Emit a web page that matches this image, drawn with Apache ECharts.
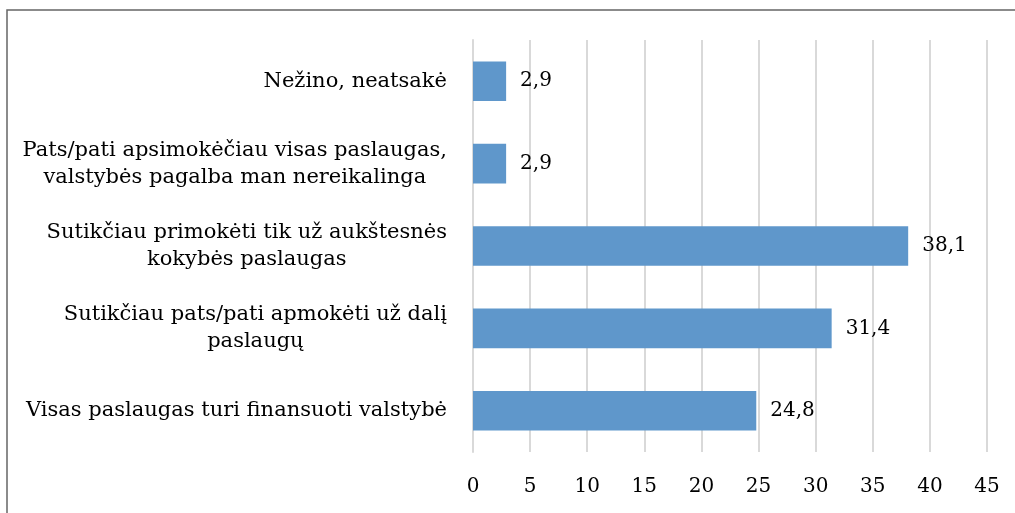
<!DOCTYPE html>
<html><head><meta charset="utf-8">
<script src="https://cdn.jsdelivr.net/npm/echarts@6/dist/echarts.min.js"></script>
<style>html,body{margin:0;padding:0;background:#fff}#c{width:1015px;height:513px}</style>
</head><body><div id="c"></div>
<script>
const categories = [
  "Visas paslaugas turi finansuoti valstybė",
  "Sutikčiau pats/pati apmokėti už dalį\npaslaugų",
  "Sutikčiau primokėti tik už aukštesnės\nkokybės paslaugas",
  "Pats/pati apsimokėčiau visas paslaugas,\nvalstybės pagalba man nereikalinga",
  "Nežino, neatsakė"
];
const values = [24.8, 31.4, 38.1, 2.9, 2.9];
const xTicks = { min: 0, max: 45, interval: 5 };

const font = '"DejaVu Serif",serif';
const fs = 20;
const catFs = 21;
const chart = echarts.init(document.getElementById('c'));
chart.setOption({
  animation: false,
  backgroundColor: '#fff',
  graphic: [{
    type: 'polyline',
    shape: { points: [[7, 520], [7, 10], [1020, 10]] },
    style: { stroke: '#666', lineWidth: 1.5, fill: null },
    z: 10
  }],
  grid: { left: 473, right: 28, top: 40, bottom: 61 },
  xAxis: {
    type: 'value', min: xTicks.min, max: xTicks.max, interval: xTicks.interval,
    axisLine: { show: false }, axisTick: { show: false },
    splitLine: { lineStyle: { color: '#d9d9d9', width: 2 } },
    axisLabel: { color: '#000', fontFamily: font, fontSize: fs, margin: 25 }
  },
  yAxis: {
    type: 'category', data: categories,
    axisLine: { show: true, lineStyle: { color: '#d9d9d9', width: 2 } },
    axisTick: { show: false },
    axisLabel: {
      color: '#000', fontFamily: font, fontSize: catFs, margin: 26, lineHeight: 27,
      align: 'right',
      formatter: v => v.split('\n').map(s => '{a|' + s + '}').join('\n'),
      rich: { a: { align: 'center', fontFamily: font, fontSize: catFs, lineHeight: 27, color: '#000' } }
    }
  },
  series: [{
    type: 'bar', data: values, barWidth: '48%',
    itemStyle: { color: '#5f97cb' },
    label: {
      show: true, position: 'right', distance: 14,
      color: '#000', fontFamily: font, fontSize: fs,
      formatter: p => String(p.value).replace('.', ',')
    }
  }]
});
</script></body></html>
